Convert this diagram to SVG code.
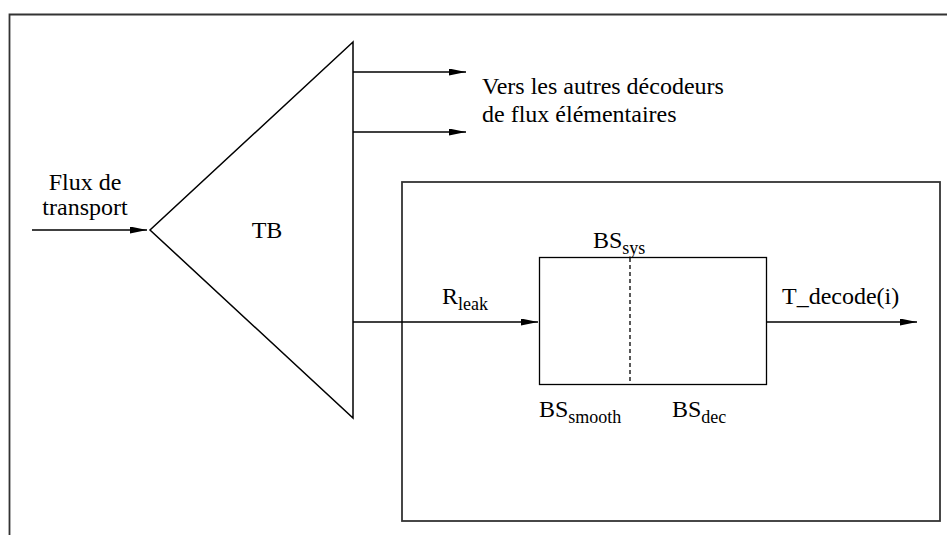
<svg xmlns="http://www.w3.org/2000/svg" width="947" height="535" viewBox="0 0 947 535">
<style>
text{font-family:'Liberation Serif','Times New Roman','DejaVu Serif',serif;font-size:24px;fill:#000}
.sub{font-size:18px}
.ln{fill:none;stroke:#000;stroke-width:1.5}
.fr{fill:none;stroke:#333;stroke-width:1.8}
</style>
<defs>
<marker id="ah" markerUnits="userSpaceOnUse" markerWidth="18" markerHeight="8" refX="17" refY="3.5" orient="auto">
<path d="M0,0 L17,3.5 L0,7 Z" fill="#000"/>
</marker>
</defs>
<rect width="947" height="535" fill="#fff"/>
<g id="frame">
<path class="fr" d="M9.5,535 V14.5 H947"/>
</g>
<g id="decoder">
<rect class="fr" x="402" y="182" width="538" height="339"/>
</g>
<g id="tb" font-family="Liberation Serif, serif">
<path class="ln" d="M353,42 L150,230 L353,418 Z"/>
<text x="267" y="238" text-anchor="middle" font-family="Liberation Serif, serif">TB</text>
</g>
<g id="buffer">
<rect x="539.5" y="257.5" width="227" height="127" fill="none" stroke="#000" stroke-width="1.3"/>
<line x1="630" y1="258" x2="630" y2="384" stroke="#000" stroke-width="1.3" stroke-dasharray="4,3"/>
<text x="593" y="248">BS<tspan class="sub" dy="6">sys</tspan></text>
<text x="539" y="417">BS<tspan class="sub" dy="6">smooth</tspan></text>
<text x="672" y="417">BS<tspan class="sub" dy="6">dec</tspan></text>
</g>
<g id="connectors">
<line class="ln" x1="32" y1="230" x2="147" y2="230" marker-end="url(#ah)"/>
<line class="ln" x1="353" y1="72" x2="466" y2="72" marker-end="url(#ah)"/>
<line class="ln" x1="353" y1="132" x2="466" y2="132" marker-end="url(#ah)"/>
<line class="ln" x1="353" y1="322" x2="538" y2="322" marker-end="url(#ah)"/>
<line class="ln" x1="767" y1="322" x2="917" y2="322" marker-end="url(#ah)"/>
</g>
<g id="labels">
<text x="85" y="190" text-anchor="middle">Flux de</text>
<text x="85" y="215" text-anchor="middle">transport</text>
<text x="482" y="94">Vers les autres décodeurs</text>
<text x="482" y="122">de flux élémentaires</text>
<text x="442" y="304">R<tspan class="sub" dy="6">leak</tspan></text>
<text x="782" y="304">T_decode(i)</text>
</g>
</svg>
